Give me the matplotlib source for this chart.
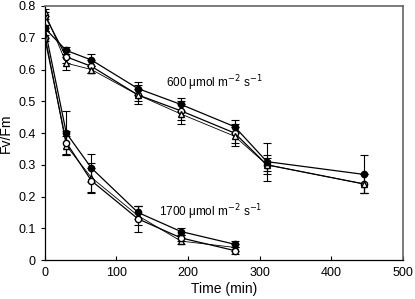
import numpy as np
import matplotlib
matplotlib.use("Agg")
import matplotlib.pyplot as plt

plt.rcParams['font.family'] = ['Liberation Sans', 'DejaVu Sans']

# 600 umol series
t600 = [0, 30, 65, 130, 190, 265, 310, 445]
fill600 = [0.73, 0.66, 0.63, 0.54, 0.49, 0.42, 0.31, 0.27]
efill600 = [0.01, 0.01, 0.02, 0.02, 0.02, 0.02, 0.06, 0.06]
open600 = [0.77, 0.64, 0.61, 0.52, 0.47, 0.40, 0.30, 0.24]
eopen600 = [0.01, 0.02, 0.02, 0.03, 0.03, 0.03, 0.03, 0.03]
tri600 = [0.78, 0.62, 0.60, 0.52, 0.46, 0.39, 0.30, 0.24]
etri600 = [0.01, 0.02, 0.01, 0.02, 0.03, 0.03, 0.02, 0.03]

# 1700 umol series
t1700 = [0, 30, 65, 130, 190, 265]
fill1700 = [0.73, 0.40, 0.29, 0.15, 0.09, 0.05]
efill1700 = [0.01, 0.07, 0.045, 0.02, 0.01, 0.01]
open1700 = [0.70, 0.37, 0.25, 0.13, 0.07, 0.03]
eopen1700 = [0.01, 0.035, 0.04, 0.04, 0.01, 0.01]
tri1700 = [0.71, 0.36, 0.26, 0.14, 0.06, 0.04]
etri1700 = [0.01, 0.03, 0.045, 0.03, 0.01, 0.01]

fig = plt.figure(figsize=(4.15, 2.99), dpi=100)
ax = fig.add_axes([0.108, 0.130, 0.863, 0.850])

kw = dict(color='k', lw=0.9, ms=4.5, capsize=3, elinewidth=0.8, capthick=0.8)
ax.errorbar(t600, open600, yerr=eopen600, fmt='-o', mfc='white', mec='k', **kw)
ax.errorbar(t600, tri600, yerr=etri600, fmt='-^', mfc='white', mec='k', **dict(kw, lw=0.6))
ax.errorbar(t600, fill600, yerr=efill600, fmt='-o', mfc='k', mec='k', **kw)

ax.errorbar(t1700, tri1700, yerr=etri1700, fmt='-^', mfc='white', mec='k', **dict(kw, lw=0.6))
ax.errorbar(t1700, open1700, yerr=eopen1700, fmt='-o', mfc='white', mec='k', **kw)
ax.errorbar(t1700, fill1700, yerr=efill1700, fmt='-o', mfc='k', mec='k', **kw)

ax.text(237, 0.557, '600 $\\mathregular{\\mu}$mol m$^{-2}$ s$^{-1}$', fontsize=8.5, ha='center', va='center')
ax.text(232, 0.151, '1700 $\\mathregular{\\mu}$mol m$^{-2}$ s$^{-1}$', fontsize=8.5, ha='center', va='center')

ax.set_xlim(0, 500)
ax.set_ylim(0, 0.8)
ax.set_xticks([0, 100, 200, 300, 400, 500])
ax.set_yticks([0, 0.1, 0.2, 0.3, 0.4, 0.5, 0.6, 0.7, 0.8])
ax.set_yticklabels(['0', '0.1', '0.2', '0.3', '0.4', '0.5', '0.6', '0.7', '0.8'])
ax.tick_params(axis='x', direction='in', length=3, labelsize=9, pad=5)
ax.tick_params(axis='y', direction='out', length=3, labelsize=9)
ax.set_xlabel('Time (min)', fontsize=10, labelpad=2)
ax.set_ylabel('Fv/Fm', fontsize=10, labelpad=4)
for s in ['top', 'right']:
    ax.spines[s].set_color('0.4')
    ax.spines[s].set_linewidth(1.2)
for s in ['left', 'bottom']:
    ax.spines[s].set_linewidth(0.9)

fig.savefig('out.png', dpi=100)
